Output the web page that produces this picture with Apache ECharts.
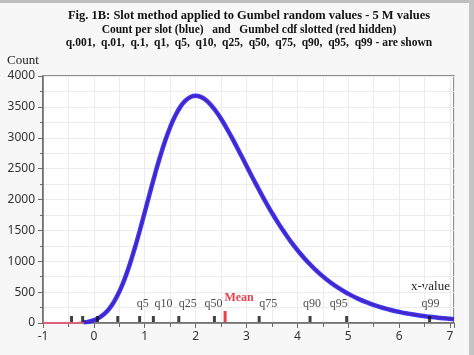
<!DOCTYPE html>
<html>
<head>
<meta charset="utf-8">
<script src="https://cdn.jsdelivr.net/npm/echarts@6/dist/echarts.min.js"></script>
<style>
html,body{margin:0;padding:0;background:#f7f7f7;}
#c{width:474px;height:355px;}
</style>
</head>
<body>
<div id="c"></div>
<script>
// ---- data ----
const titleLines = [
  "Fig. 1B: Slot method applied to Gumbel random values - 5 M values",
  "Count per slot (blue)   and   Gumbel cdf slotted (red hidden)",
  "q.001,  q.01,  q.1,  q1,  q5,  q10,  q25,  q50,  q75,  q90,  q95,  q99 - are shown"
];
const slotX = [-0.2,-0.1,0.0,0.1,0.2,0.3,0.4,0.5,0.6,0.7,0.8,0.9,1.0,1.1,1.2,1.3,1.4,1.5,1.6,1.7,1.8,1.9,2.0,
  2.1,2.2,2.3,2.4,2.5,2.6,2.7,2.8,2.9,3.0,3.1,3.2,3.3,3.4,3.5,3.6,3.7,3.8,3.9,4.0,
  4.2,4.4,4.6,4.8,5.0,5.2,5.4,5.6,5.8,6.0,6.2,6.4,6.6,6.8,7.0,7.08];
const slotCounts = [11,23,46,83,143,230,350,507,703,936,1200,1490,1794,2102,2404,2688,2946,3170,3356,3500,3601,3660,3680,
  3661,3611,3532,3429,3307,3170,3022,2867,2707,2546,2386,2229,2075,1927,1785,1650,1522,1401,1288,1182,
  992,828,690,572,474,391,323,266,219,180,148,121,100,82,67,62];
const cdfLeadX = [-1.0,-0.6,-0.3];
const cdfLeadCounts = [0,0,5];
const quantileNames = ["q.001","q.01","q.1","q1","q5","q10","q25","q50","q75","q90","q95","q99"];
const quantileX = [-0.44,-0.22,0.07,0.47,0.90,1.17,1.67,2.37,3.25,4.25,4.97,6.60];
const shownLabels = ["q5","q10","q25","q50","q75","q90","q95","q99"];
const meanX = 2.58;
const xTicks = [-1,0,1,2,3,4,5,6,7];
const yTicks = [0,500,1000,1500,2000,2500,3000,3500,4000];

// ---- styling (pixel nudges for label placement) ----
const labelNudge = {q5:3,q10:10,q25:9,q50:-1,q75:9,q90:2,q95:-8,q99:1};

const blueData = slotX.map((x,i)=>[x,slotCounts[i]]);
const redData = cdfLeadX.map((x,i)=>[x,cdfLeadCounts[i]]).concat(blueData);
const markerData = quantileX.map(x=>[x,0]);
const labelData = quantileNames.map((n,i)=>({name:n,value:[quantileX[i],0]}))
  .filter(d=>shownLabels.indexOf(d.name)>=0)
  .map(d=>({name:d.name,value:d.value,label:{offset:[labelNudge[d.name],-19]}}));

const serif = '"Liberation Serif","Times New Roman",serif';
const sans = '"Noto Sans","DejaVu Sans",sans-serif';

const chart = echarts.init(document.getElementById('c'),null,{renderer:'canvas'});
chart.setOption({
  backgroundColor:'#f7f7f7',
  animation:false,
  graphic:[
    {type:'rect',shape:{x:0,y:0,width:474,height:3},style:{fill:'#bdbdbd'},silent:true},
    {type:'rect',shape:{x:469,y:0,width:5,height:355},style:{fill:'#c4c4c4'},silent:true},
    {type:'text',x:249,y:9,style:{text:titleLines[0],font:'bold 12.5px '+serif,fill:'#111',textAlign:'center'}},
    {type:'text',x:249,y:24,style:{text:titleLines[1],font:'bold 11.5px '+serif,fill:'#111',textAlign:'center'}},
    {type:'text',x:249,y:37,style:{text:titleLines[2],font:'bold 11.5px '+serif,fill:'#111',textAlign:'center'}},
    {type:'text',left:7,top:54,style:{text:'Count',font:'13px '+serif,fill:'#222'}},
    {type:'text',right:24,top:280,style:{text:'x-value',font:'13px '+serif,fill:'#222'}}
  ],
  grid:{left:43,right:20,top:76,bottom:32,show:true,backgroundColor:'#ffffff',borderColor:'#6a6a6a',borderWidth:1.5},
  xAxis:{
    type:'value',min:-1,max:7.08,interval:1,
    axisLine:{onZero:false,lineStyle:{color:'#6a6a6a',width:1.5}},
    axisTick:{show:true,length:5,lineStyle:{color:'#6a6a6a'}},
    minorTick:{show:true,splitNumber:2,length:4,lineStyle:{color:'#6a6a6a'}},
    splitLine:{show:true,lineStyle:{color:'#ececec'}},
    minorSplitLine:{show:true,lineStyle:{color:'#ececec'}},
    axisLabel:{color:'#333',fontFamily:sans,fontSize:12,margin:8,
      formatter:v=>xTicks.indexOf(v)>=0?String(v):''}
  },
  yAxis:{
    type:'value',min:0,max:4000,interval:500,
    axisLine:{show:true,onZero:false,lineStyle:{color:'#6a6a6a',width:1.5}},
    axisTick:{show:true,length:5,lineStyle:{color:'#6a6a6a'}},
    minorTick:{show:true,splitNumber:2,length:3,lineStyle:{color:'#6a6a6a'}},
    splitLine:{show:true,lineStyle:{color:'#ececec'}},
    minorSplitLine:{show:true,lineStyle:{color:'#ececec'}},
    axisLabel:{color:'#333',fontFamily:sans,fontSize:12,margin:8,
      formatter:v=>yTicks.indexOf(v)>=0?String(v):''}
  },
  series:[
    {type:'line',data:redData,showSymbol:false,smooth:false,z:2,
      lineStyle:{color:'#e0607a',width:2}},
    {type:'line',data:blueData,showSymbol:false,smooth:true,z:3,
      lineStyle:{color:'#2424f4',width:4.5,opacity:0.9}},
    {type:'line',data:blueData,showSymbol:false,smooth:true,z:4,
      lineStyle:{color:'#6a1a8a',width:1.2,opacity:0.6}},
    {type:'scatter',data:markerData,symbol:'rect',symbolSize:[3,6],symbolOffset:[0,-4],clip:false,z:6,
      itemStyle:{color:'#111'}},
    {type:'scatter',data:[[meanX,0]],symbol:'rect',symbolSize:[3,11],symbolOffset:[0,-6.5],clip:false,z:6,
      itemStyle:{color:'#e01020'},
      label:{show:true,position:'inside',formatter:'Mean',offset:[14,-19],color:'#e01020',
        fontFamily:serif,fontSize:12,fontWeight:'bold'}},
    {type:'scatter',data:labelData,symbolSize:1,clip:false,z:7,itemStyle:{color:'rgba(0,0,0,0)'},
      label:{show:true,position:'inside',formatter:'{b}',color:'#222',fontFamily:serif,fontSize:12}}
  ]
});
</script>
</body>
</html>
